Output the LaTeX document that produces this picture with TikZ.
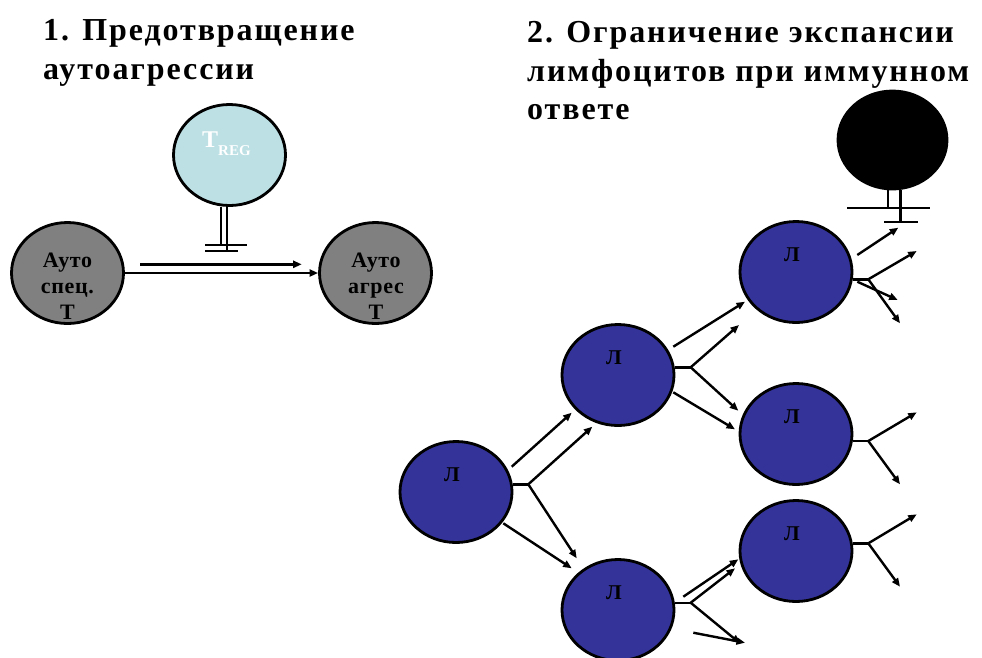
\documentclass[tikz,border=0pt]{standalone}
\usepackage{fontspec}
\setmainfont{Liberation Serif}
\newfontfamily\titlefont[LetterSpace=6]{Liberation Serif}
\newfontfamily\cellfont[LetterSpace=3]{Liberation Serif}
\usetikzlibrary{shapes.geometric,arrows.meta}
\definecolor{tregfill}{RGB}{188,224,228}
\definecolor{cellgrey}{RGB}{128,128,128}
\definecolor{lymph}{RGB}{51,51,153}
\begin{document}
\begin{tikzpicture}[x=1pt,y=-1pt,
 cell/.style={ellipse, draw=black, line width=2.8pt, minimum width=112pt, minimum height=101pt, inner sep=0pt},
 arr/.style={line width=2.4pt, -{Triangle[length=8.5pt,width=7pt]}},
 ln/.style={line width=2.4pt},
 ttl/.style={font=\titlefont\bfseries\fontsize{32}{40}\selectfont, anchor=base west, inner sep=0pt},
 lbl/.style={font=\cellfont\bfseries\fontsize{21}{21}\selectfont, text=black, inner sep=0pt},
 gtxt/.style={font=\cellfont\bfseries\fontsize{22}{26}\selectfont, align=center, inner sep=0pt}
]
\useasboundingbox (0,0) rectangle (982,657);

% titles
\node[ttl] (t1a) at (43,40) {1. Предотвращение};
\node[ttl] (t1b) at (43,79) {аутоагрессии};
\node[ttl] (t2a) at (527,42) {2. Ограничение экспансии};
\node[ttl] (t2b) at (527,81) {лимфоцитов при иммунном};
\node[ttl] (t2c) at (527,119) {ответе};

% left part
\node[cell, fill=tregfill] (treg) at (229.5,155) {};
\node[anchor=base west, inner sep=0pt, text=white, font=\bfseries] (tregt) at (202,147)
  {\fontsize{24}{24}\selectfont T\raisebox{-8pt}{\fontsize{15}{15}\selectfont REG}};
\node[cell, fill=cellgrey] (g1) at (67.5,273) {};
\node[cell, fill=cellgrey] (g2) at (375.5,273) {};
\node[gtxt] (g1t) at (67.5,286) {Ауто\\спец.\\Т};
\node[gtxt] (g2t) at (376,286) {Ауто\\агрес\\Т};

\coordinate (ia) at ([xshift=-8.5pt]treg.south);
\coordinate (ib) at ([xshift=-2.5pt]treg.south);
\coordinate (ia2) at (221,245);
\coordinate (ib2) at (227,251);
\draw[ln] (ia) -- (ia2);
\draw[ln] (ib) -- (ib2);
\draw[ln] (205,245) -- (247,245);
\draw[ln] (205,251) -- (238,251);

\coordinate (a1s) at (140,264.3);
\coordinate (a1e) at (301.7,264.3);
\draw[arr] (a1s) -- (a1e);
\draw[arr] (g1.east) -- (g2.west);

% right part
\node[cell, fill=black, minimum width=109pt, minimum height=98pt] (blk) at (892.5,140) {};
\coordinate (ja) at ([xshift=-4.5pt]blk.south);
\coordinate (jb) at ([xshift=8pt]blk.south);
\coordinate (ja2) at (888,208);
\coordinate (jb2) at (900.5,222);
\draw[ln] (ja) -- (ja2);
\draw[ln] (jb) -- (jb2);
\draw[ln] (847,208) -- (930,208);
\draw[ln] (884,222) -- (918,222);

\node[cell, fill=lymph] (l1) at (456,492) {};
\node[cell, fill=lymph] (l2) at (618,375) {};
\node[cell, fill=lymph] (l3) at (618,610) {};
\node[cell, fill=lymph] (l4) at (796,272) {};
\node[cell, fill=lymph] (l5) at (796,434) {};
\node[cell, fill=lymph] (l6) at (796,551) {};
\foreach \n in {l1,l2,l3,l4,l5,l6}
  \node[lbl] (\n t) at ([xshift=-4pt,yshift=17pt]\n.center) {Л};

% from l1
\coordinate (f1) at (528.3,484.3);
\coordinate (p1a) at (511.7,466.7); \coordinate (q1a) at (571.7,412.7);
\coordinate (q1b) at (592.3,426.7);
\coordinate (q1c) at (576.7,558.3);
\coordinate (p1d) at (503.3,523.3); \coordinate (q1d) at (571.7,568.3);
\draw[ln] (l1.east |- f1) -- (f1);
\draw[arr] (p1a) -- (q1a);
\draw[arr] (f1) -- (q1b);
\draw[arr] (f1) -- (q1c);
\draw[arr] (p1d) -- (q1d);

% from l2
\coordinate (f2) at (690.7,367.3);
\coordinate (p2a) at (673.3,346.7); \coordinate (q2a) at (745,301.7);
\coordinate (q2b) at (739,325);
\coordinate (q2c) at (738.3,410.7);
\coordinate (p2d) at (673.3,392.3); \coordinate (q2d) at (735,429.3);
\draw[ln] (l2.east |- f2) -- (f2);
\draw[arr] (p2a) -- (q2a);
\draw[arr] (f2) -- (q2b);
\draw[arr] (f2) -- (q2c);
\draw[arr] (p2d) -- (q2d);

% from l3
\coordinate (f3) at (690.7,602.7);
\coordinate (p3a) at (683.3,596.7); \coordinate (q3a) at (738.3,559.3);
\coordinate (q3b) at (735,568.3);
\coordinate (q3c) at (740,643.3);
\coordinate (p3d) at (693.3,632.7); \coordinate (q3d) at (745,642.7);
\draw[ln] (l3.east |- f3) -- (f3);
\draw[arr] (p3a) -- (q3a);
\draw[arr] (f3) -- (q3b);
\draw[arr] (f3) -- (q3c);
\draw[arr] (p3d) -- (q3d);

% from l4
\coordinate (f4) at (868.3,279.3);
\coordinate (p4a) at (857.3,255); \coordinate (q4a) at (898.3,227.7);
\coordinate (q4b) at (916.7,251);
\coordinate (q4c) at (900,323.3);
\coordinate (p4d) at (857.3,281.7); \coordinate (q4d) at (897.7,300);
\draw[ln] (l4.east |- f4) -- (f4);
\draw[arr] (p4a) -- (q4a);
\draw[arr] (f4) -- (q4b);
\draw[arr] (f4) -- (q4c);
\draw[arr] (p4d) -- (q4d);

% from l5
\coordinate (f5) at (868.3,441);
\coordinate (q5b) at (916.7,412.3);
\coordinate (q5c) at (900,484.3);
\draw[ln] (l5.east |- f5) -- (f5);
\draw[arr] (f5) -- (q5b);
\draw[arr] (f5) -- (q5c);

% from l6
\coordinate (f6) at (868.3,543.3);
\coordinate (q6b) at (916.7,514.3);
\coordinate (q6c) at (900,586.7);
\draw[ln] (l6.east |- f6) -- (f6);
\draw[arr] (f6) -- (q6b);
\draw[arr] (f6) -- (q6c);
\end{tikzpicture}
\end{document}
